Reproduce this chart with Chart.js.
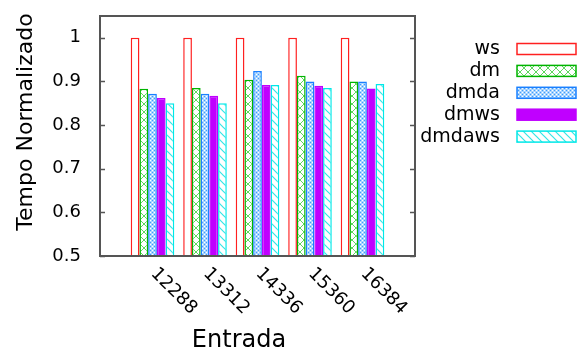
<!DOCTYPE html>
<html>
<head>
<meta charset="utf-8">
<script src="https://cdn.jsdelivr.net/npm/chart.js@4/dist/chart.umd.min.js"></script>
<style>
  html, body { margin: 0; padding: 0; background: #fff; }
  canvas { display: block; }
</style>
</head>
<body>
<canvas id="chart" width="583" height="354"></canvas>
<script>
// data
const entradas = ["12288", "13312", "14336", "15360", "16384"];
const seriesNames = ["ws", "dm", "dmda", "dmws", "dmdaws"];
const ws = [1, 1, 1, 1, 1];
const dm = [0.883, 0.885, 0.904, 0.913, 0.900];
const dmda = [0.872, 0.872, 0.924, 0.900, 0.900];
const dmws = [0.862, 0.867, 0.892, 0.890, 0.884];
const dmdaws = [0.850, 0.850, 0.892, 0.885, 0.894];
const yTicks = [0.5, 0.6, 0.7, 0.8, 0.9, 1];

const FONT = "'DejaVu Sans', sans-serif";
const FRAME = "#555";

// empty slot on each side, like the gnuplot x range
const labels = ["", ...entradas, ""];
const pad = (arr) => [null, ...arr, null];

// fill patterns
function makePattern(size, draw) {
  const c = document.createElement("canvas");
  c.width = size;
  c.height = size;
  const g = c.getContext("2d");
  g.fillStyle = "#fff";
  g.fillRect(0, 0, size, size);
  draw(g, size);
  return g.createPattern(c, "repeat");
}

const ctx = document.getElementById("chart").getContext("2d");

const crossPat = makePattern(8, (g, s) => {
  g.strokeStyle = "#5ed85e";
  g.lineWidth = 1;
  g.beginPath();
  g.moveTo(0, 0); g.lineTo(s, s);
  g.moveTo(s, 0); g.lineTo(0, s);
  g.stroke();
});

const dotPat = makePattern(4, (g) => {
  g.fillStyle = "#a8d4ff";
  g.fillRect(0, 0, 4, 4);
  g.fillStyle = "#3d9bff";
  g.fillRect(0, 0, 1, 1);
  g.fillRect(2, 2, 1, 1);
  g.fillStyle = "#ffffff";
  g.fillRect(2, 0, 1, 1);
  g.fillRect(0, 2, 1, 1);
});

const diagPat = makePattern(8, (g, s) => {
  g.strokeStyle = "#33e6e6";
  g.lineWidth = 1.2;
  g.beginPath();
  g.moveTo(0, 0); g.lineTo(s, s);
  g.moveTo(-s, 0); g.lineTo(s, 2 * s);
  g.moveTo(0, -s); g.lineTo(2 * s, s);
  g.stroke();
});

const styles = [
  { bg: "#ffffff", border: "#ff2020" },
  { bg: crossPat, border: "#00b400" },
  { bg: dotPat, border: "#1a80ff" },
  { bg: "#c000ff", border: "#c000ff" },
  { bg: diagPat, border: "#00e8e8" },
];
const values = [ws, dm, dmda, dmws, dmdaws];

const datasets = seriesNames.map((name, i) => ({
  label: name,
  data: pad(values[i]),
  backgroundColor: styles[i].bg,
  borderColor: styles[i].border,
  borderWidth: 1.5,
  borderSkipped: false,
  categoryPercentage: 0.83,
  barPercentage: 1,
}));

// frame, inner ticks, rotated x labels, axis titles and legend
const gnuplotLook = {
  id: "gnuplotLook",
  afterDraw(chart) {
    const { ctx: c, chartArea: a, scales } = chart;
    const y = scales.y;
    const x = scales.x;
    c.save();

    // frame
    c.strokeStyle = FRAME;
    c.lineWidth = 2;
    c.strokeRect(a.left, a.top, a.right - a.left, a.bottom - a.top);

    // inner tick marks on both sides
    c.lineWidth = 1.5;
    yTicks.forEach((v) => {
      const py = Math.round(y.getPixelForValue(v)) + 0.5;
      c.beginPath();
      c.moveTo(a.left, py); c.lineTo(a.left + 5, py);
      c.moveTo(a.right, py); c.lineTo(a.right - 5, py);
      c.stroke();
    });

    // x labels rotated clockwise
    c.fillStyle = "#000";
    c.font = `18px ${FONT}`;
    c.textAlign = "left";
    c.textBaseline = "middle";
    entradas.forEach((lab, i) => {
      const px = x.getPixelForValue(i + 1);
      c.save();
      c.translate(px + 1, a.bottom + 15);
      c.rotate(Math.PI / 4);
      c.fillText(lab, 0, 0);
      c.restore();
    });

    // axis titles
    c.textAlign = "center";
    c.font = `24px ${FONT}`;
    c.textBaseline = "alphabetic";
    c.fillText("Entrada", 239, 347);

    c.save();
    c.font = `22px ${FONT}`;
    c.translate(26, 122);
    c.rotate(-Math.PI / 2);
    c.textBaseline = "middle";
    c.fillText("Tempo Normalizado", 0, 0);
    c.restore();

    // legend
    c.font = `19px ${FONT}`;
    c.textAlign = "right";
    c.textBaseline = "middle";
    chart.data.datasets.forEach((ds, i) => {
      const ly = 49 + i * 21.9;
      c.fillStyle = "#000";
      c.fillText(ds.label, 500, ly);
      c.fillStyle = ds.backgroundColor;
      c.fillRect(517, ly - 5.5, 59, 11);
      c.strokeStyle = ds.borderColor;
      c.lineWidth = 1.5;
      c.strokeRect(517, ly - 5.5, 59, 11);
    });

    c.restore();
  },
};

new Chart(ctx, {
  type: "bar",
  data: { labels, datasets },
  options: {
    responsive: false,
    animation: false,
    devicePixelRatio: 1,
    layout: { padding: { left: 0, right: 168, top: 16, bottom: 98 } },
    plugins: {
      legend: { display: false },
      tooltip: { enabled: false },
    },
    scales: {
      x: {
        offset: false,
        grid: { display: false },
        border: { display: false },
        ticks: { display: false },
        afterFit: (s) => { s.height = 0; },
      },
      y: {
        min: 0.5,
        max: 1.05,
        grid: { display: false, drawTicks: true, tickLength: 19 },
        border: { display: false },
        ticks: {
          stepSize: 0.1,
          includeBounds: false,
          padding: 0,
          color: "#000",
          font: { family: FONT, size: 18 },
          callback: (v) => (yTicks.some((t) => Math.abs(t - v) < 1e-6) ? String(Math.round(v * 10) / 10) : ""),
        },
        afterFit: (s) => { s.width = 100; },
      },
    },
  },
  plugins: [gnuplotLook],
});
</script>
</body>
</html>
